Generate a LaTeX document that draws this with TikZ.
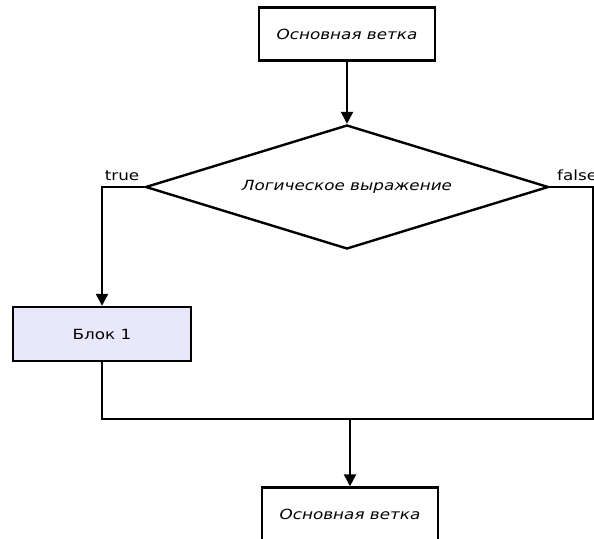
\documentclass[tikz,border=0pt]{standalone}
\usepackage{fontspec}
\newfontfamily\lbl[FakeStretch=1.2]{DejaVu Sans}
\usetikzlibrary{shapes.geometric,arrows.meta}
\definecolor{blockfill}{RGB}{232,232,250}
\begin{document}
\begin{tikzpicture}[x=1pt,y=-1pt,
  every node/.style={font=\lbl\fontsize{14}{16}\selectfont, text=black},
  stepbox/.style={draw, line width=2.4pt, minimum width=176pt, minimum height=53pt, inner sep=0pt},
  cond/.style={draw, diamond, line width=2.4pt, minimum width=403pt, minimum height=124pt, aspect=3.25, inner sep=0pt},
  flow/.style={line width=2.4pt},
  arr/.style={flow, -{Triangle[width=12pt,length=12pt]}},
  tag/.style={inner sep=0pt}]
  \useasboundingbox (0,0) rectangle (594,538);

  % blocks
  \node[stepbox] (top) at (347,34) {\itshape Основная ветка};
  \node[cond] (cnd) at (347,187) {\itshape Логическое выражение};
  \node[stepbox, fill=blockfill, minimum width=178pt, minimum height=54pt] (b1) at (102,334) {Блок 1};
  \node[stepbox] (bot) at (350,514) {\itshape Основная ветка};

  % branch labels
  \node[tag, anchor=south] (t) at (122,181) {true};
  \node[tag, anchor=south west] (f) at (557,181) {false};

  % auxiliary points of the merge line
  \coordinate (rc) at (593,419);
  \coordinate (jn) at (350,419);

  % connectors
  \draw[arr] (top.south) -- (cnd.north);
  \draw[arr] (cnd.west) -| (b1.north);
  \draw[flow] (cnd.east) -| (rc) -| (b1.south);
  \draw[arr] (jn) -- (bot.north);
\end{tikzpicture}
\end{document}
